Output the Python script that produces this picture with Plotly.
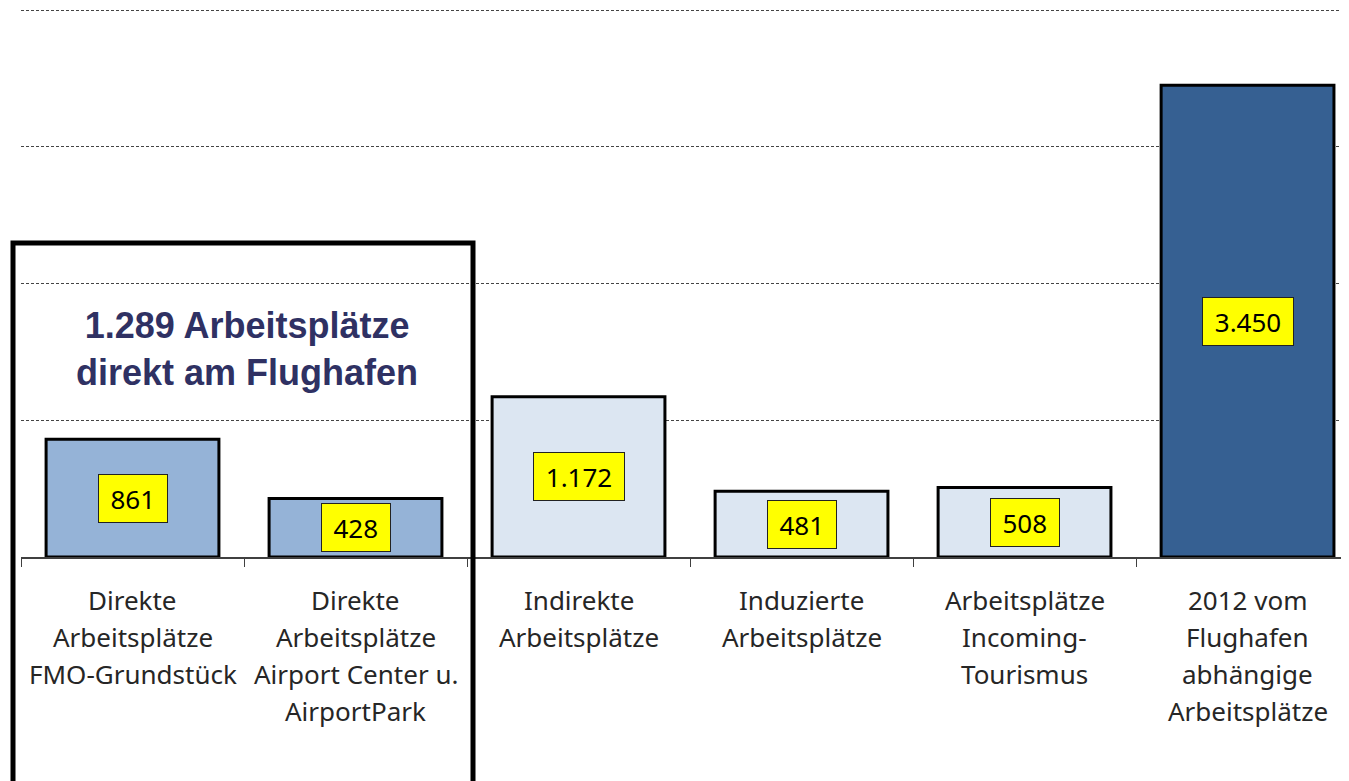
import plotly.graph_objects as go

# datos
kategorien = [
    "Direkte<br>Arbeitsplätze<br>FMO-Grundstück",
    "Direkte<br>Arbeitsplätze<br>Airport Center u.<br>AirportPark",
    "Indirekte<br>Arbeitsplätze",
    "Induzierte<br>Arbeitsplätze",
    "Arbeitsplätze<br>Incoming-<br>Tourismus",
    "2012 vom<br>Flughafen<br>abhängige<br>Arbeitsplätze",
]
werte = [861, 428, 1172, 481, 508, 3450]
farben = ["#95B3D7", "#95B3D7", "#DCE6F2", "#DCE6F2", "#DCE6F2", "#366092"]

x_kat = [k.replace("<br>", " ") for k in kategorien]

fig = go.Figure()
fig.add_trace(go.Bar(
    x=x_kat, y=werte, width=0.775,
    marker=dict(color=farben, line=dict(color="black", width=3)),
    showlegend=False, hoverinfo="skip",
))

annotations = []
# Wertelabels (gelbe Kästchen)
for i, v in enumerate(werte):
    txt = f"{v:,}".replace(",", ".")
    breite = 15.5 * sum(c.isdigit() for c in txt) + 7 * txt.count(".") + 19
    annotations.append(dict(
        x=i, y=v / 2, xref="x", yref="y", text=txt, showarrow=False,
        font=dict(family="Noto Sans", size=26, color="black"),
        bgcolor="#FFFF00", bordercolor="#222", borderwidth=1,
        width=breite, height=45, align="center", valign="middle",
    ))

# Kategorienbeschriftung, eine Zeile pro Annotation
for i, lab in enumerate(kategorien):
    for j, zeile in enumerate(lab.split("<br>")):
        annotations.append(dict(
            x=i, y=0, xref="x", yref="paper", text=zeile, showarrow=False,
            yanchor="middle", yshift=-(43 + 37 * j),
            font=dict(family="Noto Sans", size=26, color="#262626"),
        ))

# Kastentext
annotations.append(dict(
    x=(247 - 21) / 1328, y=(557 - 349) / 549, xref="paper", yref="paper",
    xanchor="center", yanchor="middle",
    text="<b>1.289 Arbeitsplätze<br>direkt am Flughafen</b>",
    showarrow=False, align="center",
    font=dict(family="Liberation Sans", size=36, color="#2F3163"),
))

# Seite hat 8px Rand -> Figur etwas kleiner
fig.update_layout(
    width=1341, height=773,
    margin=dict(l=13, r=0, t=0, b=224),
    paper_bgcolor="white", plot_bgcolor="white",
    annotations=annotations,
    shapes=[dict(
        type="rect", xref="paper", yref="paper",
        x0=(13 - 21) / 1328, x1=(473 - 21) / 1328,
        y0=-0.45, y1=(557 - 243) / 549,
        line=dict(color="black", width=5), layer="above",
    )],
)

fig.update_xaxes(
    type="category", range=[-0.5, 5.455], showticklabels=False,
    tickson="boundaries", ticks="outside", ticklen=8, tickcolor="#404040",
    showline=True, linecolor="#404040", linewidth=1.5,
    showgrid=False, zeroline=False,
)
fig.update_yaxes(
    range=[0, 4015], tickvals=[1000, 2000, 3000, 4000], showticklabels=False,
    showgrid=True, gridcolor="#444444", gridwidth=1, griddash="3px,2px",
    zeroline=False, showline=False,
)

fig.write_html("out.html")
